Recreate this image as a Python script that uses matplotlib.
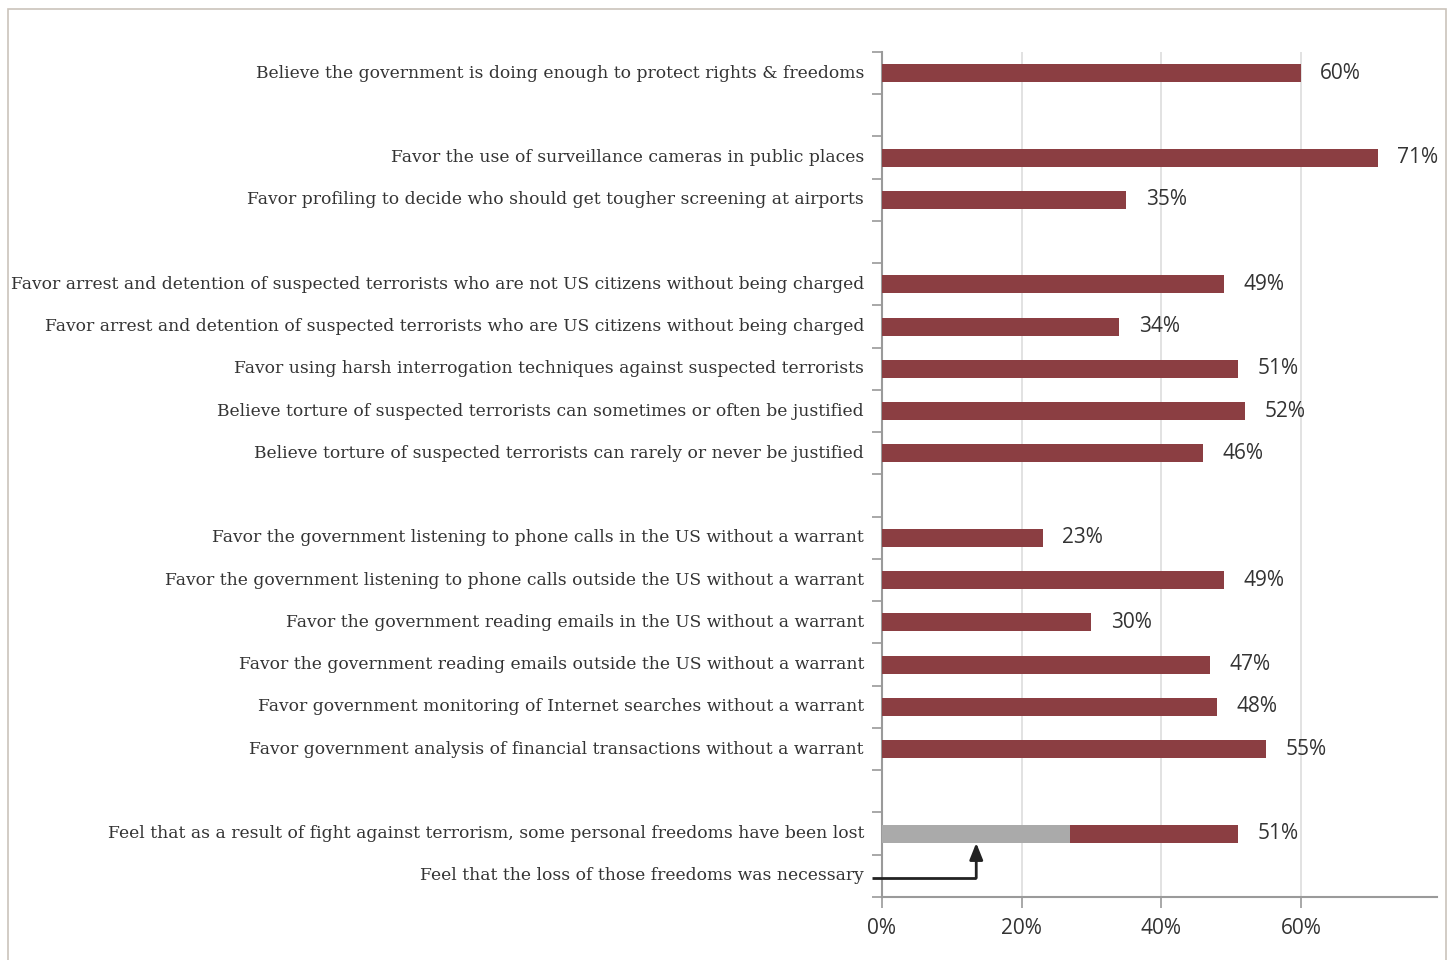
"""
Views on anti-terrorism measures, horizontal bar chart.
"""

import matplotlib

matplotlib.use("Agg")
import matplotlib.pyplot as plt
from matplotlib.patches import Rectangle

# one entry per category slot, "" marks an empty spacer slot
LABELS = [
    "Believe the government is doing enough to protect rights & freedoms",
    "",
    "Favor the use of surveillance cameras in public places",
    "Favor profiling to decide who should get tougher screening at airports",
    "",
    "Favor arrest and detention of suspected terrorists who are not US citizens without being charged",
    "Favor arrest and detention of suspected terrorists who are US citizens without being charged",
    "Favor using harsh interrogation techniques against suspected terrorists",
    "Believe torture of suspected terrorists can sometimes or often be justified",
    "Believe torture of suspected terrorists can rarely or never be justified",
    "",
    "Favor the government listening to phone calls in the US without a warrant",
    "Favor the government listening to phone calls outside the US without a warrant",
    "Favor the government reading emails in the US without a warrant",
    "Favor the government reading emails outside the US without a warrant",
    "Favor government monitoring of Internet searches without a warrant",
    "Favor government analysis of financial transactions without a warrant",
    "",
    "Feel that as a result of fight against terrorism, some personal freedoms have been lost",
    "Feel that the loss of those freedoms was necessary",
]
VALUES = [60, None, 71, 35, None, 49, 34, 51, 52, 46, None,
          23, 49, 30, 47, 48, 55, None, 51, None]
# share of "freedoms lost" who say the loss was necessary (grey part)
NECESSARY = 27

RED = "#8b3e42"
GREY = "#aaaaaa"
TEXT = "#333333"
AXIS = "#9a9a9a"


def main() -> None:
    fig = plt.figure(figsize=(14.5, 9.6), dpi=100)
    fig.patches.append(Rectangle((8 / 1450, -0.01), 1438 / 1450, 1 - 9 / 960 + 0.01,
                                 transform=fig.transFigure, fill=False,
                                 edgecolor="#cbc3bb", linewidth=1.2))
    ax = fig.add_axes([882 / 1450, 1 - 897 / 960, (1437 - 882) / 1450, (897 - 52) / 960])

    n = len(LABELS)
    ypos = list(range(n))
    for y, v in zip(ypos, VALUES):
        if v is None:
            continue
        ax.barh(y, v, height=0.43, color=RED, zorder=3)
        ax.annotate(f"{v}%", (v, y), xytext=(14, 0), textcoords="offset points",
                    va="center", ha="left", fontsize=15, color=TEXT,
                    family="Open Sans")

    lost_row = LABELS.index(
        "Feel that as a result of fight against terrorism, some personal freedoms have been lost")
    ax.barh(lost_row, NECESSARY, height=0.43, color=GREY, zorder=4)

    # arrow from the "necessary" label up to the grey segment
    nec_row = n - 1
    ax.annotate("", xy=(NECESSARY / 2, lost_row + 0.22), xytext=(NECESSARY / 2, nec_row + 0.05),
                arrowprops=dict(arrowstyle="-|>,head_length=1.0,head_width=0.4",
                                color="#222222", lw=2, shrinkA=0, shrinkB=0), zorder=5)
    ax.plot([-1.4, NECESSARY / 2], [nec_row + 0.05, nec_row + 0.05], color="#222222",
            lw=2, clip_on=False, zorder=5, solid_capstyle="butt")

    ax.set_ylim(n - 0.5, -0.5)
    ax.set_xlim(0, 79.5)

    ax.set_yticks(ypos)
    ax.set_yticklabels(LABELS, family="DejaVu Serif", fontsize=12.3, color=TEXT,
                       va="center")
    ax.set_yticks([i - 0.5 for i in range(n + 1)], minor=True)
    ax.tick_params(axis="y", which="major", length=0, pad=13)
    ax.tick_params(axis="y", which="minor", length=7, color=AXIS, width=1.2)

    ax.set_xticks([0, 20, 40, 60])
    ax.set_xticklabels(["0%", "20%", "40%", "60%"], family="Open Sans", fontsize=15,
                       color=TEXT)
    ax.tick_params(axis="x", length=8, color=AXIS, width=1.2, pad=7)

    ax.grid(axis="x", color="#dddddd", linewidth=1.2, zorder=0)
    for side in ("top", "right"):
        ax.spines[side].set_visible(False)
    for side in ("left", "bottom"):
        ax.spines[side].set_color(AXIS)
        ax.spines[side].set_linewidth(1.5)

    fig.savefig("out.png", dpi=100)
    plt.close(fig)


if __name__ == "__main__":
    main()
